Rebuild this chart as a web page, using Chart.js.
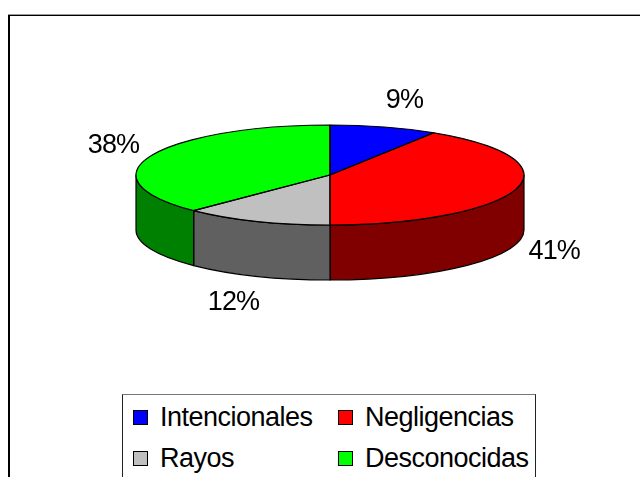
<!DOCTYPE html>
<html lang="es">
<head>
<meta charset="utf-8">
<title>Causas de incendios</title>
<script src="https://cdn.jsdelivr.net/npm/chart.js@4.4.1/dist/chart.umd.min.js"></script>
<style>
  html, body { margin: 0; padding: 0; background: #fff; }
  body { width: 640px; height: 477px; overflow: hidden; position: relative; }
  #frame {
    position: absolute; left: 8px; top: 15px; width: 700px; height: 500px;
    border-top: 1px solid #000; border-left: 2px solid #000;
    box-shadow: 0 -1px 0 #999;
  }
  #chart { position: absolute; left: 0; top: 0; }
  #legend {
    position: absolute; left: 122px; top: 394px; width: 412px; height: 120px;
    border: 1px solid #222; border-top-color: #777; background: #fff;
  }
  .legend-item {
    position: absolute; display: flex; align-items: center; height: 30px;
    font-family: "Liberation Sans", Arial, sans-serif; font-size: 27px; color: #000;
    white-space: nowrap; letter-spacing: -0.5px;
  }
  .legend-item i {
    display: inline-block; width: 13px; height: 13px; border: 1px solid #000;
    margin-right: 12px;
  }
</style>
</head>
<body>
<div id="frame"></div>
<canvas id="chart" width="640" height="477"></canvas>
<div id="legend"></div>
<script>
/* ---------- Data ---------- */
var LABELS = ['Intencionales', 'Negligencias', 'Rayos', 'Desconocidas'];
var SHARES = [9, 41, 12.4, 37.6];
var TOP_COLORS = ['#0000FF', '#FF0000', '#C0C0C0', '#00FF00'];
var SIDE_COLORS = ['#000080', '#800000', '#606060', '#008000'];

/* ---------- Layout of the tilted pie ---------- */
var PIE = { cx: 330, cy: 175, rx: 194, ry: 50, depth: 55 };
var LABEL_POS = { rx: 220, ry: 78, push: 13 };
var LEGEND_POS = { cols: [10, 215], rows: [7, 48] };

(function () {
  'use strict';

  function total() {
    return SHARES.reduce(function (s, v) { return s + v; }, 0);
  }

  function ellipsePt(angle, dy) {
    return {
      x: PIE.cx + PIE.rx * Math.cos(angle),
      y: PIE.cy + (dy || 0) + PIE.ry * Math.sin(angle)
    };
  }

  var pie3d = {
    id: 'pie3d',
    beforeDatasetsDraw: function (chart) {
      var ctx = chart.ctx;
      var arcs = chart.getDatasetMeta(0).data;

      // side walls, only the front half (0..PI) is visible
      ctx.save();
      ctx.lineWidth = 1.2;
      ctx.strokeStyle = '#000';
      ctx.lineJoin = 'round';
      arcs.forEach(function (arc, i) {
        var a = Math.max(arc.startAngle, 0);
        var b = Math.min(arc.endAngle, Math.PI);
        if (a >= b) return;
        var pb = ellipsePt(b, PIE.depth);
        ctx.beginPath();
        ctx.ellipse(PIE.cx, PIE.cy, PIE.rx, PIE.ry, 0, a, b);
        ctx.lineTo(pb.x, pb.y);
        ctx.ellipse(PIE.cx, PIE.cy + PIE.depth, PIE.rx, PIE.ry, 0, b, a, true);
        ctx.closePath();
        ctx.fillStyle = SIDE_COLORS[i];
        ctx.fill();
        ctx.stroke();
      });
      ctx.restore();

      // squash the library's round pie into the top face
      var first = arcs[0];
      ctx.save();
      ctx.translate(PIE.cx, PIE.cy);
      ctx.scale(PIE.rx / first.outerRadius, PIE.ry / first.outerRadius);
      ctx.translate(-first.x, -first.y);
    },
    afterDatasetsDraw: function (chart) {
      var ctx = chart.ctx;
      var arcs = chart.getDatasetMeta(0).data;
      ctx.restore();

      // outlines of the top face
      ctx.save();
      ctx.lineWidth = 1.2;
      ctx.strokeStyle = '#000';
      ctx.lineJoin = 'round';
      arcs.forEach(function (arc) {
        var p = ellipsePt(arc.startAngle);
        ctx.beginPath();
        ctx.moveTo(PIE.cx, PIE.cy);
        ctx.lineTo(p.x, p.y);
        ctx.ellipse(PIE.cx, PIE.cy, PIE.rx, PIE.ry, 0, arc.startAngle, arc.endAngle);
        ctx.closePath();
        ctx.stroke();
      });

      // percentage labels
      var sum = total();
      ctx.fillStyle = '#000';
      ctx.font = '27px "Liberation Sans", Arial, sans-serif';
      ctx.letterSpacing = '-0.9px';
      ctx.textAlign = 'center';
      ctx.textBaseline = 'middle';
      arcs.forEach(function (arc, i) {
        var mid = (arc.startAngle + arc.endAngle) / 2;
        var c = Math.cos(mid), s = Math.sin(mid);
        var x = PIE.cx + LABEL_POS.rx * c + LABEL_POS.push * Math.sign(c);
        var y = PIE.cy + LABEL_POS.ry * s + (s > 0 ? PIE.depth : 0);
        ctx.fillText(Math.round(SHARES[i] / sum * 100) + '%', x, y);
      });
      ctx.restore();
    }
  };

  var chart = new Chart(document.getElementById('chart'), {
    type: 'pie',
    data: {
      labels: LABELS,
      datasets: [{
        data: SHARES,
        backgroundColor: TOP_COLORS,
        borderWidth: 0
      }]
    },
    options: {
      responsive: false,
      animation: false,
      events: [],
      layout: { padding: 20 },
      plugins: {
        legend: { display: false },
        tooltip: { enabled: false }
      }
    },
    plugins: [pie3d]
  });

  /* ---------- Legend (two aligned columns) ---------- */
  var legend = document.getElementById('legend');
  var items = Chart.overrides.pie.plugins.legend.labels.generateLabels(chart);
  items.forEach(function (item, i) {
    var el = document.createElement('div');
    el.className = 'legend-item';
    el.style.left = LEGEND_POS.cols[i % 2] + 'px';
    el.style.top = LEGEND_POS.rows[Math.floor(i / 2)] + 'px';
    var sw = document.createElement('i');
    sw.style.background = item.fillStyle;
    el.appendChild(sw);
    el.appendChild(document.createTextNode(item.text));
    legend.appendChild(el);
  });
})();
</script>
</body>
</html>
